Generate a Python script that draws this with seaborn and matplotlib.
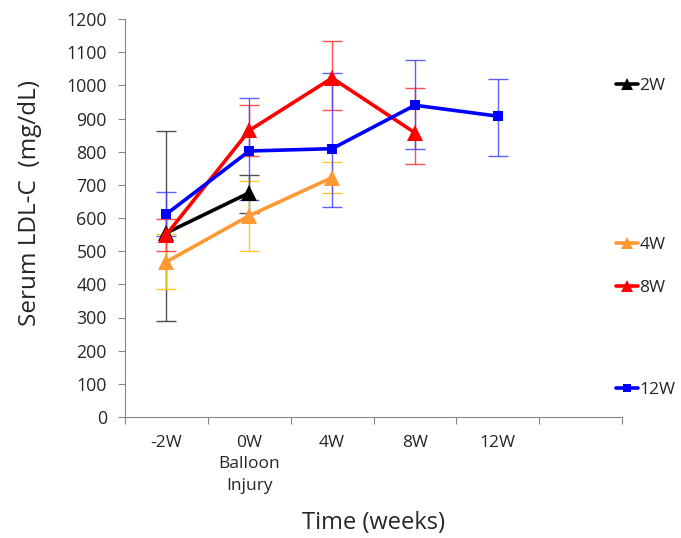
import matplotlib
matplotlib.use("Agg")
import matplotlib.pyplot as plt
import seaborn as sns
import pandas as pd
import numpy as np
from matplotlib.lines import Line2D

# ---- data ----
categories = ["-2W", "0W\nBalloon\nInjury", "4W", "8W", "12W", ""]
series_names = ["2W", "4W", "8W", "12W"]

mean_2w = [555, 676]
errlo_2w = [267, 62]
errhi_2w = [308, 54]

mean_4w = [468, 607, 722]
errlo_4w = [83, 106, 47]
errhi_4w = [83, 106, 47]

mean_8w = [550, 864, 1022, 857]
errlo_8w = [49, 76, 97, 95]
errhi_8w = [48, 76, 113, 134]

mean_12w = [612, 802, 809, 940, 907]
errlo_12w = [66, 148, 175, 131, 119]
errhi_12w = [67, 159, 228, 135, 112]

means = {"2W": mean_2w, "4W": mean_4w, "8W": mean_8w, "12W": mean_12w}
errlo = {"2W": errlo_2w, "4W": errlo_4w, "8W": errlo_8w, "12W": errlo_12w}
errhi = {"2W": errhi_2w, "4W": errhi_4w, "8W": errhi_8w, "12W": errhi_12w}

line_colors = {"2W": "#000000", "4W": "#FF9933", "8W": "#FF0000", "12W": "#0000FF"}
err_colors = {"2W": "#333333", "4W": "#FFC000", "8W": "#FF3333", "12W": "#4444FF"}
markers = {"2W": "^", "4W": "^", "8W": "^", "12W": "s"}
msizes = {"2W": 11, "4W": 11, "8W": 11, "12W": 7.5}

rows = []
for s in series_names:
    for i, v in enumerate(means[s]):
        rows.append({"series": s, "pos": i + 0.5, "value": v})
df = pd.DataFrame(rows)

sns.set_style("white")
plt.rcParams["font.family"] = ["Open Sans", "DejaVu Sans"]

fig = plt.figure(figsize=(6.81, 5.38), dpi=100)
ax = fig.add_axes([125 / 681, 1 - 417 / 538, (622 - 125) / 681, (417 - 19) / 538])

# error bars first
for s in series_names:
    x = np.arange(len(means[s])) + 0.5
    ax.errorbar(x, means[s], yerr=[errlo[s], errhi[s]], fmt="none",
                ecolor=err_colors[s], elinewidth=1.0, capsize=7, capthick=1.0,
                alpha=0.85, zorder=2)

for s in series_names:
    sub = df[df["series"] == s]
    sns.lineplot(data=sub, x="pos", y="value", ax=ax, color=line_colors[s],
                 linewidth=2.6, marker=markers[s], markersize=msizes[s],
                 markeredgewidth=0, legend=False, zorder=3)

ax.set_xlim(0, 6)
ax.set_ylim(0, 1200)
ax.set_yticks(np.arange(0, 1201, 100))
ax.set_xticks(np.arange(0, 7, 1))
ax.set_xticklabels([])
ax.set_xticks(np.arange(len(categories)) + 0.5, minor=True)
ax.set_xticklabels(categories, minor=True, fontsize=12.5, linespacing=1.45,
                   va="top")
ax.tick_params(axis="x", which="minor", length=0, pad=13)
ax.tick_params(axis="x", which="major", length=5, color="#868686", width=0.8,
               direction="out", bottom=True)
ax.tick_params(axis="y", length=5, color="#868686", width=0.8, direction="out",
               left=True, labelsize=12.8, pad=8)

for sp in ["top", "right"]:
    ax.spines[sp].set_visible(False)
for sp in ["left", "bottom"]:
    ax.spines[sp].set_color("#868686")
    ax.spines[sp].set_linewidth(0.8)

ax.set_xlabel("Time (weeks)", fontsize=17)
ax.set_ylabel("Serum LDL-C  (mg/dL)", fontsize=17.5)
ax.xaxis.set_label_coords(0.5, -0.237)
ax.yaxis.set_label_coords(-0.167, 0.537)
ax.grid(False)

# legend entries spread on right
legend_y = {"2W": 86, "4W": 245, "8W": 288, "12W": 390}
for s in series_names:
    h = Line2D([], [], color=line_colors[s], linewidth=2.6, marker=markers[s],
               markersize=msizes[s] * 0.8, markeredgewidth=0)
    leg = fig.legend(handles=[h], labels=[s], loc="center left",
                     bbox_to_anchor=(616 / 681, 1 - legend_y[s] / 538),
                     frameon=False, fontsize=12.5, handlelength=1.25,
                     handletextpad=0.1, borderpad=0, borderaxespad=0)

fig.savefig("out.png", dpi=100)
